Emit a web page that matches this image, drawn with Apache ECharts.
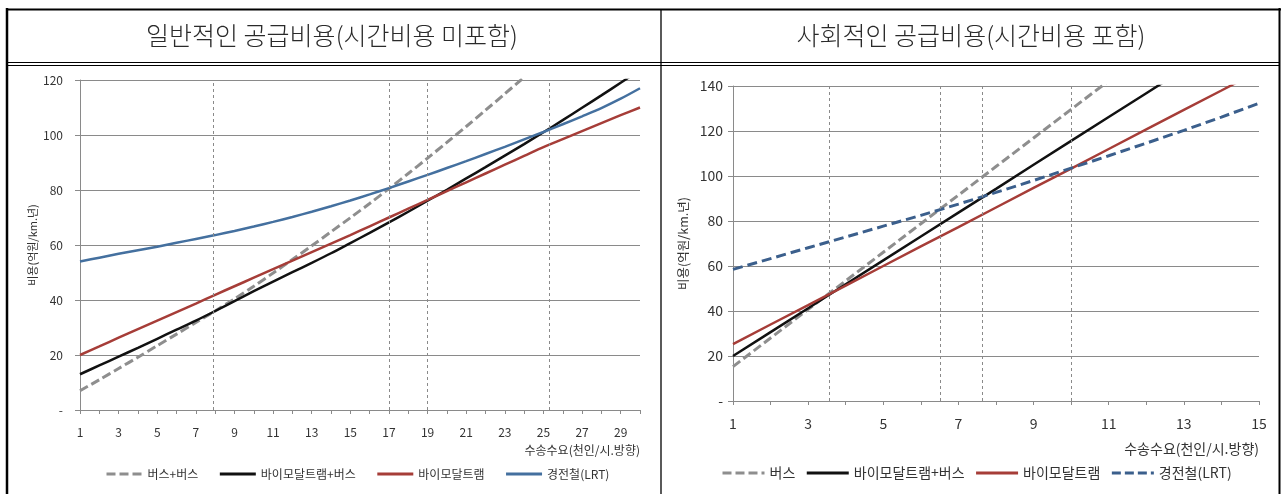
<!DOCTYPE html>
<html><head><meta charset="utf-8">
<script src="https://cdn.jsdelivr.net/npm/echarts@6/dist/echarts.min.js"></script>
<style>html,body{margin:0;padding:0;background:#fff}#c{width:1284px;height:494px}</style>
</head><body><div id="c"></div>
<script>
// ---- texts ----
const titleLeft = '일반적인 공급비용(시간비용 미포함)';
const titleRight = '사회적인 공급비용(시간비용 포함)';
const yAxisName = '비용(억원/km.년)';
const xAxisName = '수송수요(천인/시.방향)';
const leftNames = ['버스+버스', '바이모달트램+버스', '바이모달트램', '경전철(LRT)'];
const rightNames = ['버스', '바이모달트램+버스', '바이모달트램', '경전철(LRT)'];

// ---- left chart data (x = 1..30) ----
const leftX = [1,2,3,4,5,6,7,8,9,10,11,12,13,14,15,16,17,18,19,20,21,22,23,24,25,26,27,28,29,30];
const leftBusBus = [7,11,15.1,19.2,23.4,27.6,31.8,36,40.4,45,49.8,54.7,59.7,64.8,69.9,75.1,80.5,86,91.6,97.3,103.1,109,115,121];
const leftBimodalBus = [13,16.2,19.4,22.6,25.9,29.2,32.5,36,39.6,43.2,46.7,50.1,53.5,57,60.7,64.4,68.2,72.1,76.1,80.1,84.2,88.3,92.5,96.7,101,105.4,109.9,114.4,119,123.6];
const leftBimodal = [20,23.1,26.3,29.4,32.5,35.6,38.7,41.9,45,48.1,51.2,54.3,57.4,60.5,63.6,66.8,70,73.2,76.4,79.6,82.8,86,89.2,92.4,95.6,98.5,101.4,104.3,107.2,110];
const leftLRT = [54,55.4,56.8,58.1,59.4,60.8,62.2,63.6,65.1,66.7,68.4,70.2,72.1,74.1,76.2,78.4,80.7,83.1,85.5,88,90.5,93.1,95.7,98.4,101.1,103.9,106.8,109.8,113.2,117];
const leftRefLines = [7.9, 17, 19, 25.3];

// ---- right chart data (x = 1..15) ----
const rightX = [1,2,3,4,5,6,7,8,9,10,11,12,13,14,15];
const rightBus = [15.3,28,40.7,53.4,66.1,78.8,91.5,104.2,116.9,129.6,142.3];
const rightBimodalBus = [20,30.6,41.2,51.9,62.5,73.1,83.7,94.3,105,115.6,126.2,136.8,147.4];
const rightBimodal = [25.3,34,42.6,51.3,60,68.7,77.3,86,94.7,103.3,112,120.7,129.4,138,146.7];
const rightLRT = [58.5,63.3,68.1,72.9,77.7,82.5,87.5,92.7,98,103.5,109,114.6,120.3,126.2,132.3];
const rightRefLines = [3.56, 6.51, 7.64, 10];

// ---- styles ----
const FONT = '"Noto Sans CJK KR", "Noto Sans", sans-serif';
const C_GRAY = '#8e8e8e', C_BLACK = '#111111', C_RED = '#a63d38', C_BLUE = '#44709f', C_BLUE2 = '#3b5f8c';
const GRID_C = '#8a8a8a';

const pairs = (xs, ys) => ys.map((y, i) => [xs[i], y]);

function xAxisCfg(gi, max, fs, margin, namePad) {
  return {
    type: 'value', gridIndex: gi, min: 1, max: max, interval: 1,
    axisLine: { show: true, onZero: false, lineStyle: { color: GRID_C, width: 1 } },
    axisTick: { show: true, length: 4, lineStyle: { color: GRID_C } },
    splitLine: { show: false },
    axisLabel: { color: '#333', fontSize: fs, fontFamily: FONT, margin: margin,
      formatter: v => (v % 2 === 1 ? String(v) : '') },
    name: xAxisName, nameLocation: 'end', nameGap: 0,
    nameTextStyle: { color: '#333', fontSize: fs, fontFamily: FONT, align: 'right', verticalAlign: 'top', padding: [namePad, 0, 0, 0] }
  };
}
function yAxisCfg(gi, max, fs, margin, nameGap, nfs) {
  return {
    type: 'value', gridIndex: gi, min: 0, max: max, interval: 20,
    axisLine: { show: true, lineStyle: { color: GRID_C, width: 1 } },
    axisTick: { show: true, length: 5, lineStyle: { color: GRID_C } },
    splitLine: { show: true, lineStyle: { color: GRID_C, width: 1 } },
    axisLabel: { color: '#333', fontSize: fs, fontFamily: FONT, margin: margin,
      formatter: v => (v === 0 ? '-' : String(v)) },
    name: yAxisName, nameLocation: 'middle', nameGap: nameGap,
    nameTextStyle: { color: '#333', fontSize: nfs, fontFamily: FONT }
  };
}
function refLines(vals) {
  return {
    silent: true, symbol: ['none', 'none'], label: { show: false },
    lineStyle: { type: [3, 3], color: '#8a8a8a', width: 1 },
    emphasis: { disabled: true },
    data: vals.map(v => ({ xAxis: v }))
  };
}
function lineSeries(name, gi, data, color, type, width, smooth, extra) {
  return Object.assign({
    type: 'line', name: name, xAxisIndex: gi, yAxisIndex: gi, data: data,
    symbol: 'none', showSymbol: false, smooth: smooth, clip: true,
    lineStyle: { color: color, width: width, type: type }, itemStyle: { color: color },
    emphasis: { disabled: true }
  }, extra || {});
}

const chart = echarts.init(document.getElementById('c'), null, { renderer: 'canvas' });

const legendItem = (name, color, type, width) => ({
  name: name, itemStyle: { color: color, opacity: 0 },
  lineStyle: { color: color, type: type, width: width }
});

chart.setOption({
  animation: false,
  backgroundColor: '#ffffff',
  textStyle: { fontFamily: FONT },
  grid: [
    { left: 80, top: 80, width: 560, height: 330 },
    { left: 733, top: 86, width: 526, height: 315 }
  ],
  xAxis: [ xAxisCfg(0, 30, 12, 16, 34), xAxisCfg(1, 15, 14, 16, 41) ],
  yAxis: [ yAxisCfg(0, 120, 12, 17, 42, 11), yAxisCfg(1, 140, 14, 10, 44, 12.5) ],
  legend: [
    { left: 100, top: 463, itemWidth: 36, itemHeight: 12, itemGap: 20,
      textStyle: { fontSize: 12, color: '#333', fontFamily: FONT },
      selectedMode: false,
      data: [ legendItem(leftNames[0], C_GRAY, [9, 4], 3), legendItem(leftNames[1], C_BLACK, 'solid', 3),
              legendItem(leftNames[2], C_RED, 'solid', 3), legendItem(leftNames[3], C_BLUE, 'solid', 3) ] },
    { left: 716, top: 461, itemWidth: 42, itemHeight: 14, itemGap: 10,
      textStyle: { fontSize: 14, color: '#333', fontFamily: FONT },
      selectedMode: false,
      data: [ legendItem(rightNames[0], C_GRAY, [9, 4], 3), legendItem(rightNames[1], C_BLACK, 'solid', 3),
              legendItem(rightNames[2], C_RED, 'solid', 3), legendItem(rightNames[3], C_BLUE2, [9, 4], 3) ] }
  ],
  series: [
    lineSeries(leftNames[0], 0, pairs(leftX, leftBusBus), C_GRAY, [9, 4], 3, 0.3, { markLine: refLines(leftRefLines), z: 3 }),
    lineSeries(leftNames[1], 0, pairs(leftX, leftBimodalBus), C_BLACK, 'solid', 2.5, 0.3),
    lineSeries(leftNames[2], 0, pairs(leftX, leftBimodal), C_RED, 'solid', 2.5, 0.3),
    lineSeries(leftNames[3], 0, pairs(leftX, leftLRT), C_BLUE, 'solid', 2.5, 0.3),
    lineSeries(rightNames[0], 1, pairs(rightX, rightBus), C_GRAY, [9, 4], 3, false, { markLine: refLines(rightRefLines), z: 3 }),
    lineSeries(rightNames[1], 1, pairs(rightX, rightBimodalBus), C_BLACK, 'solid', 2.5, false),
    lineSeries(rightNames[2], 1, pairs(rightX, rightBimodal), C_RED, 'solid', 2.5, false),
    lineSeries(rightNames[3], 1, pairs(rightX, rightLRT), C_BLUE2, [10, 5], 3, false)
  ],
  graphic: [
    { type: 'line', silent: true, shape: { x1: 7, y1: 8, x2: 7, y2: 494 }, style: { stroke: '#000', lineWidth: 2.5 } },
    { type: 'line', silent: true, shape: { x1: 6, y1: 9.5, x2: 1281, y2: 9.5 }, style: { stroke: '#000', lineWidth: 2 } },
    { type: 'line', silent: true, shape: { x1: 1279.5, y1: 8, x2: 1279.5, y2: 494 }, style: { stroke: '#000', lineWidth: 2 } },
    { type: 'line', silent: true, shape: { x1: 7, y1: 62.5, x2: 1279, y2: 62.5 }, style: { stroke: '#000', lineWidth: 1.2 } },
    { type: 'line', silent: true, shape: { x1: 7, y1: 65.5, x2: 1279, y2: 65.5 }, style: { stroke: '#000', lineWidth: 1.2 } },
    { type: 'line', silent: true, shape: { x1: 661, y1: 9, x2: 661, y2: 494 }, style: { stroke: '#000', lineWidth: 1.3 } },
    { type: 'text', silent: true, x: 332, y: 35, style: { text: titleLeft, font: '300 25px ' + FONT, fill: '#2a2a2a', textAlign: 'center', textVerticalAlign: 'middle' } },
    { type: 'text', silent: true, x: 971, y: 35, style: { text: titleRight, font: '300 25px ' + FONT, fill: '#2a2a2a', textAlign: 'center', textVerticalAlign: 'middle' } }
  ]
});
</script>
</body></html>
